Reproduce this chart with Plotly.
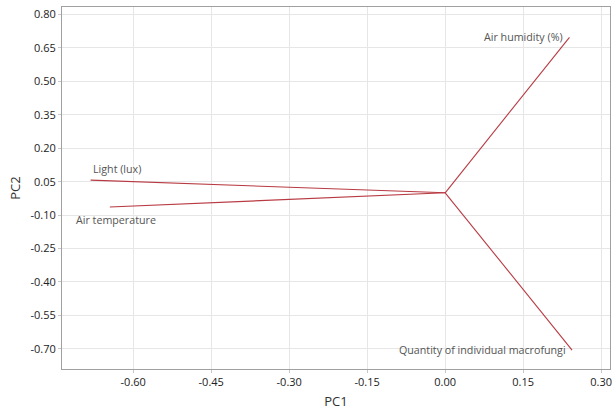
import plotly.graph_objects as go

variables = ["Light (lux)", "Air temperature", "Air humidity (%)", "Quantity of individual macrofungi"]
pc1 = [-0.682, -0.645, 0.239, 0.244]
pc2 = [0.057, -0.064, 0.698, -0.706]
x_ticks = [-0.60, -0.45, -0.30, -0.15, 0.00, 0.15, 0.30]
y_ticks = [0.80, 0.65, 0.50, 0.35, 0.20, 0.05, -0.10, -0.25, -0.40, -0.55, -0.70]

label_pos = {
    "Light (lux)": dict(xanchor="left", yanchor="bottom", xshift=0, yshift=2),
    "Air temperature": dict(xanchor="left", yanchor="top", xshift=-36, yshift=-4),
    "Air humidity (%)": dict(xanchor="right", yanchor="middle", xshift=-4, yshift=0),
    "Quantity of individual macrofungi": dict(xanchor="right", yanchor="middle", xshift=-4, yshift=0),
}

fig = go.Figure()
for name, x, y in zip(variables, pc1, pc2):
    fig.add_trace(go.Scatter(x=[0, x], y=[0, y], mode="lines",
                             line=dict(color="#b83a42", width=1.1),
                             showlegend=False, hoverinfo="skip"))
    p = label_pos[name]
    fig.add_annotation(x=x, y=y, text=name, showarrow=False,
                       font=dict(family="Open Sans", size=10.7, color="#555555"), **p)

axis_common = dict(showgrid=True, gridcolor="#e6e6e6", gridwidth=1,
                   showline=True, linecolor="#a0a0a0", linewidth=1, mirror=True,
                   ticks="outside", ticklen=3, tickcolor="#c8c8c8",
                   zeroline=False, ticklabeloverflow="allow",
                   tickfont=dict(family="Open Sans", size=11, color="#222222"))

fig.update_xaxes(range=[-0.737, 0.317], tickvals=x_ticks,
                 ticktext=[f"{v:.2f}" for v in x_ticks],
                 title=dict(text="PC1", font=dict(family="Open Sans", size=13, color="#333333"), standoff=8),
                 **axis_common)
fig.update_yaxes(range=[-0.791, 0.834], tickvals=y_ticks,
                 ticktext=[f"{v:.2f}" for v in y_ticks],
                 title=dict(text="PC2", font=dict(family="Open Sans", size=13, color="#333333"), standoff=6),
                 **axis_common)

fig.update_layout(width=614, height=414, margin=dict(l=62, r=2, t=7, b=45),
                  plot_bgcolor="white", paper_bgcolor="white")
fig.write_html("out.html")
